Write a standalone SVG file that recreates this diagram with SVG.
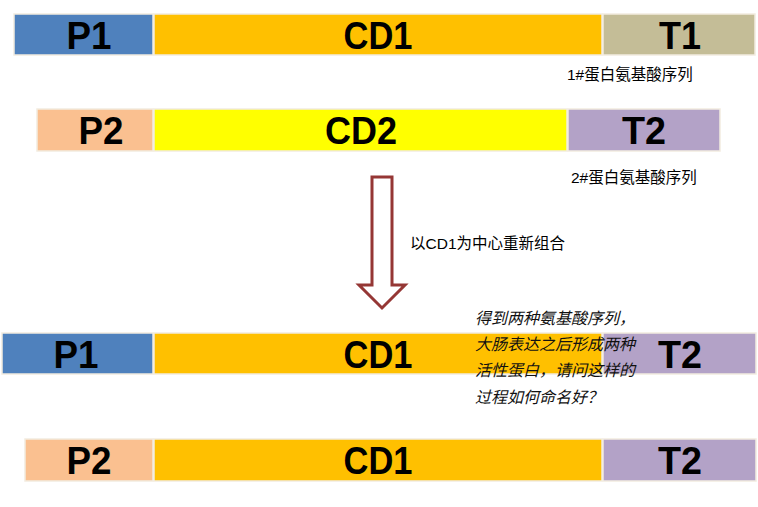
<svg xmlns="http://www.w3.org/2000/svg" width="758" height="507" viewBox="0 0 758 507">
<style>
.seg{stroke:#f2ece0;stroke-width:1.5}
.lab{font-family:"Liberation Sans",Arial,sans-serif;font-weight:bold;font-size:38px;fill:#000;text-anchor:middle}
.note{font-family:"Liberation Sans","Noto Sans CJK SC",sans-serif;font-size:15.5px;fill:#000}
.q{font-family:"Liberation Sans","Noto Sans CJK SC",sans-serif;font-size:16px;font-style:italic;fill:#111}
.blue{fill:#4F81BD}.orange{fill:#FFC000}.tan{fill:#C4BD97}.peach{fill:#FAC090}.yellow{fill:#FFFF00}.lilac{fill:#B3A2C7}
</style>
<rect width="758" height="507" fill="#fff"/>
<g id="row1">
<rect class="seg blue" x="14" y="14" width="139" height="41"/>
<rect class="seg orange" x="154" y="14" width="448" height="41"/>
<rect class="seg tan" x="603" y="14" width="152" height="41"/>
<text class="lab" x="89" y="49" textLength="45" lengthAdjust="spacingAndGlyphs">P1</text>
<text class="lab" x="378" y="49" textLength="69" lengthAdjust="spacingAndGlyphs">CD1</text>
<text class="lab" x="680" y="49" textLength="42" lengthAdjust="spacingAndGlyphs">T1</text>
</g>
<text class="note" x="567" y="80">1#蛋白氨基酸序列</text>
<g id="row2">
<rect class="seg peach" x="37" y="109" width="116" height="42"/>
<rect class="seg yellow" x="154" y="109" width="413" height="42"/>
<rect class="seg lilac" x="568" y="109" width="152" height="42"/>
<text class="lab" x="101" y="144" textLength="45" lengthAdjust="spacingAndGlyphs">P2</text>
<text class="lab" x="361" y="144" textLength="72" lengthAdjust="spacingAndGlyphs">CD2</text>
<text class="lab" x="644" y="144" textLength="44" lengthAdjust="spacingAndGlyphs">T2</text>
</g>
<text class="note" x="571" y="183">2#蛋白氨基酸序列</text>
<g id="connectors">
<path d="M372,177 H392 V285 H405 L382,308 L359,285 H372 Z" fill="#fff" stroke="#953735" stroke-width="3" stroke-linejoin="miter"/>
</g>
<text class="note" x="410" y="249">以CD1为中心重新组合</text>
<g id="row3">
<rect class="seg blue" x="2" y="333" width="151" height="41"/>
<rect class="seg orange" x="154" y="333" width="448" height="41"/>
<rect class="seg lilac" x="603" y="333" width="153" height="41"/>
<text class="lab" x="76" y="368" textLength="45" lengthAdjust="spacingAndGlyphs">P1</text>
<text class="lab" x="378" y="368" textLength="69" lengthAdjust="spacingAndGlyphs">CD1</text>
<text class="lab" x="680" y="368" textLength="44" lengthAdjust="spacingAndGlyphs">T2</text>
</g>
<g id="question">
<text class="q" x="475" y="324">得到两种氨基酸序列，</text>
<text class="q" x="475" y="350">大肠表达之后形成两种</text>
<text class="q" x="475" y="376">活性蛋白，请问这样的</text>
<text class="q" x="475" y="403">过程如何命名好？</text>
</g>
<g id="row4">
<rect class="seg peach" x="25" y="439" width="128" height="42"/>
<rect class="seg orange" x="154" y="439" width="448" height="42"/>
<rect class="seg lilac" x="603" y="439" width="153" height="42"/>
<text class="lab" x="89" y="474" textLength="45" lengthAdjust="spacingAndGlyphs">P2</text>
<text class="lab" x="378" y="474" textLength="69" lengthAdjust="spacingAndGlyphs">CD1</text>
<text class="lab" x="680" y="474" textLength="44" lengthAdjust="spacingAndGlyphs">T2</text>
</g>
</svg>
